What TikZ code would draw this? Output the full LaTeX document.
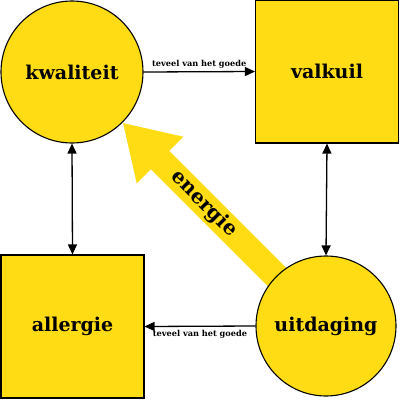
\documentclass[tikz,border=0pt]{standalone}
\usepackage{fontspec}
\setmainfont{DejaVu Serif}
\usetikzlibrary{arrows.meta,backgrounds}
\definecolor{geel}{HTML}{FFDC14}
\begin{document}
\begin{tikzpicture}[x=1pt, y=-1pt,
    rondje/.style={circle, draw, fill=geel, line width=1.1pt, inner sep=0pt,
      font=\fontsize{19}{22}\selectfont\bfseries},
    blok/.style={rectangle, draw, fill=geel, line width=1.1pt, inner sep=0pt,
      font=\fontsize{19}{22}\selectfont\bfseries},
    punt/.tip={Triangle[length=10pt, width=9pt]},
    pijl/.style={line width=1.3pt},
    notitie/.style={font=\fontsize{8.2}{10}\selectfont\bfseries, inner sep=3pt}]
  \useasboundingbox (0,0) rectangle (400,400);

  \node[rondje, minimum size=142pt] (kwaliteit) at (72,72) {kwaliteit};
  \node[blok, minimum size=143pt] (valkuil) at (327,71.5) {valkuil};
  \node[blok, minimum size=143pt] (allergie) at (72.5,326.5) {allergie};
  \node[rondje, minimum size=140pt] (uitdaging) at (326,326) {uitdaging};

  \begin{scope}[on background layer]
    \draw[geel, line width=26pt, -{Triangle[length=53pt, width=62pt]}]
      (uitdaging.center) -- (kwaliteit.south east)
      node[pos=0.6, sloped, black, font=\fontsize{20}{24}\selectfont\bfseries] {energie};
  \end{scope}

  \draw[pijl, -punt] (kwaliteit.east) -- node[notitie, above] {teveel van het goede} (valkuil.west);
  \draw[pijl, -punt] (uitdaging.west) -- node[notitie, below] {teveel van het goede} (allergie.east);
  \draw[pijl, punt-punt] (kwaliteit.south) -- (allergie.north);
  \draw[pijl, punt-punt] (valkuil.south) -- (uitdaging.north);
\end{tikzpicture}
\end{document}
